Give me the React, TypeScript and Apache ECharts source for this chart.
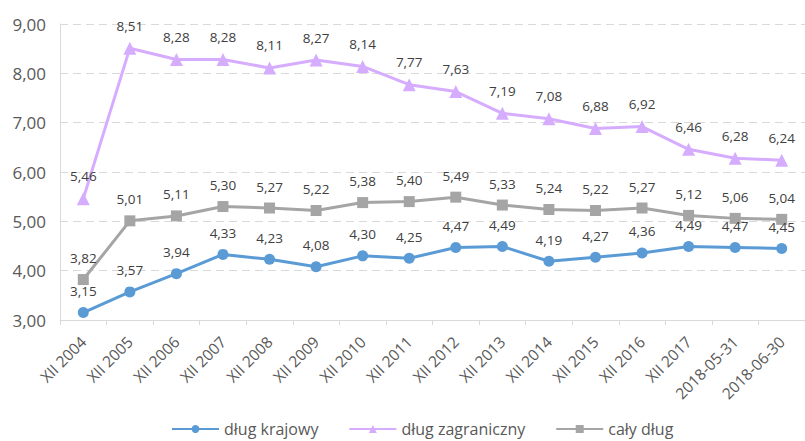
import React, { useEffect, useRef } from "react";
import * as echarts from "echarts";

const categories = [
  "XII 2004", "XII 2005", "XII 2006", "XII 2007", "XII 2008", "XII 2009",
  "XII 2010", "XII 2011", "XII 2012", "XII 2013", "XII 2014", "XII 2015",
  "XII 2016", "XII 2017", "2018-05-31", "2018-06-30",
];

const dlugKrajowy = [3.15, 3.57, 3.94, 4.33, 4.23, 4.08, 4.30, 4.25, 4.47, 4.49, 4.19, 4.27, 4.36, 4.49, 4.47, 4.45];
const dlugZagraniczny = [5.46, 8.51, 8.28, 8.28, 8.11, 8.27, 8.14, 7.77, 7.63, 7.19, 7.08, 6.88, 6.92, 6.46, 6.28, 6.24];
const calyDlug = [3.82, 5.01, 5.11, 5.30, 5.27, 5.22, 5.38, 5.40, 5.49, 5.33, 5.24, 5.22, 5.27, 5.12, 5.06, 5.04];

const FONT = "'Open Sans', 'Noto Sans', sans-serif";
const fmt = (v: number) => v.toFixed(2).replace(".", ",");

function makeSeries(name: string, data: number[], color: string, symbol: string, symbolSize: number) {
  return {
    name,
    type: "line",
    data,
    symbol,
    symbolSize,
    lineStyle: { color, width: 3 },
    itemStyle: { color },
    label: {
      show: true,
      position: "top",
      distance: 9,
      color: "#404040",
      fontFamily: FONT,
      fontSize: 13.5,
      formatter: (p: any) => fmt(p.value),
    },
  };
}

export default function App() {
  const ref = useRef<HTMLDivElement>(null);

  useEffect(() => {
    if (!ref.current) return;
    const chart = echarts.init(ref.current, null, { renderer: "svg" });
    chart.setOption({
      animation: false,
      backgroundColor: "#ffffff",
      textStyle: { fontFamily: FONT },
      grid: { left: 60, right: -9, top: 24, bottom: 121 },
      legend: {
        top: 416,
        left: 166,
        itemWidth: 47,
        itemHeight: 10,
        itemGap: 30,
        textStyle: { color: "#595959", fontSize: 16, fontFamily: FONT },
        data: ["dług krajowy", "dług zagraniczny", "cały dług"],
      },
      xAxis: {
        type: "category",
        data: categories,
        boundaryGap: true,
        axisLine: { lineStyle: { color: "#d9d9d9", width: 1 } },
        axisTick: { show: true, lineStyle: { color: "#d9d9d9" }, length: 5 },
        axisLabel: {
          rotate: 45,
          color: "#595959",
          fontSize: 15.5,
          fontFamily: FONT,
          margin: 19,
          interval: 0,
        },
      },
      yAxis: {
        type: "value",
        min: 3,
        max: 9,
        interval: 1,
        axisLine: { show: true, lineStyle: { color: "#d9d9d9" } },
        axisTick: { show: false },
        axisLabel: {
          color: "#595959",
          fontSize: 17,
          fontFamily: FONT,
          margin: 14,
          formatter: (v: number) => fmt(v),
        },
        splitLine: { lineStyle: { color: "#d9d9d9", type: [8, 5], width: 1 } },
      },
      series: [
        makeSeries("dług krajowy", dlugKrajowy, "#5b9bd5", "circle", 11),
        makeSeries("dług zagraniczny", dlugZagraniczny, "#d6acff", "triangle", 13),
        makeSeries("cały dług", calyDlug, "#a5a5a5", "rect", 11),
      ],
    });
    return () => chart.dispose();
  }, []);

  return (
    <div
      ref={ref}
      style={{ position: "absolute", left: 0, top: 0, width: 805, height: 441 }}
    />
  );
}
